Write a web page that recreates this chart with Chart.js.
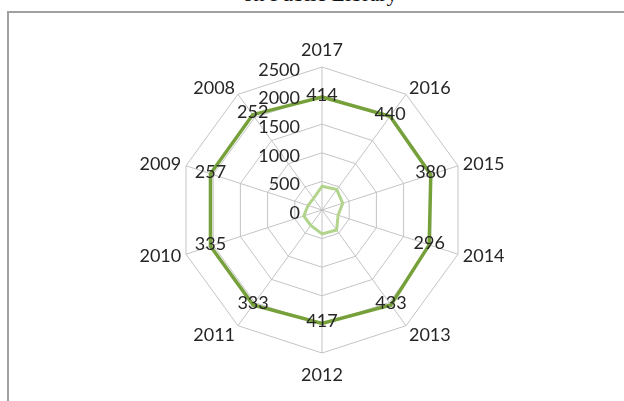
<!DOCTYPE html>
<html>
<head>
<meta charset="utf-8">
<script src="https://cdn.jsdelivr.net/npm/chart.js"></script>
<style>
  html, body { margin: 0; padding: 0; width: 624px; height: 401px; overflow: hidden; background: #fff; }
  .title { position: absolute; left: 0; top: -19px; width: 640px; text-align: center; font-family: "Liberation Serif", serif; font-size: 22px; color: #111; }
  .frame { position: absolute; left: 7px; top: 11px; width: 700px; height: 500px; border: 2px solid #a0a0a0; }
  #wrap { position: absolute; left: 0; top: 0; width: 624px; height: 401px; }
</style>
</head>
<body>
<div class="title">on Public Library</div>
<div class="frame"></div>
<div id="wrap"><canvas id="chart"></canvas></div>
<script>
const years = ['2017', '2016', '2015', '2014', '2013', '2012', '2011', '2010', '2009', '2008'];
const outerValues = [1975, 2025, 2000, 1970, 2050, 1985, 2050, 2050, 2050, 2060];
const innerValues = [414, 440, 380, 296, 433, 417, 333, 335, 257, 252];
const tickValues = [0, 500, 1000, 1500, 2000, 2500];

const FONT = '18px Lato, "Noto Sans", sans-serif';
const TEXT = '#262626';

// value labels sit on the outer line, text comes from the inner series
const valueLabels = {
  id: 'valueLabels',
  afterDatasetsDraw(chart) {
    const ctx = chart.ctx;
    const meta = chart.getDatasetMeta(0);
    ctx.save();
    ctx.font = FONT;
    ctx.fillStyle = TEXT;
    ctx.textAlign = 'center';
    ctx.textBaseline = 'middle';
    meta.data.forEach((pt, i) => {
      ctx.fillText(String(innerValues[i]), pt.x, pt.y - 2);
    });
    ctx.restore();
  }
};

// axis numbers left of the vertical spoke, years outside the rim
const axisText = {
  id: 'axisText',
  afterDraw(chart) {
    const scale = chart.scales.r;
    const ctx = chart.ctx;
    ctx.save();
    ctx.font = FONT;
    ctx.fillStyle = TEXT;
    ctx.textAlign = 'right';
    ctx.textBaseline = 'middle';
    tickValues.forEach(v => {
      const d = scale.getDistanceFromCenterForValue(v);
      ctx.fillText(String(v), scale.xCenter - 22, scale.yCenter - d + 3);
    });
    const rim = scale.getDistanceFromCenterForValue(2500);
    years.forEach((y, i) => {
      const p = scale.getPointPosition(i, rim + 5);
      let dx = p.x - scale.xCenter;
      let yy = p.y;
      if (Math.abs(dx) < 1) {
        ctx.textAlign = 'center';
        yy += (p.y < scale.yCenter) ? -12 : 17;
      } else {
        ctx.textAlign = dx > 0 ? 'left' : 'right';
        if (Math.abs(p.y - scale.yCenter) > 80) yy += (p.y < scale.yCenter) ? -2 : 5;
      }
      ctx.fillText(y, p.x, yy);
    });
    ctx.restore();
  }
};

new Chart(document.getElementById('chart'), {
  type: 'radar',
  data: {
    labels: years,
    datasets: [
      {
        data: outerValues,
        borderColor: '#76a03a',
        borderWidth: 3.5,
        fill: false,
        pointRadius: 0,
        borderJoinStyle: 'miter'
      },
      {
        data: innerValues,
        borderColor: '#b2d48c',
        borderWidth: 3,
        fill: false,
        pointRadius: 0,
        borderJoinStyle: 'miter'
      }
    ]
  },
  options: {
    responsive: true,
    maintainAspectRatio: false,
    animation: false,
    layout: { padding: { left: 20, right: 0, top: 67, bottom: 48 } },
    plugins: { legend: { display: false }, tooltip: { enabled: false } },
    scales: {
      r: {
        min: 0,
        max: 2500,
        ticks: { stepSize: 500, display: false },
        grid: { color: '#c4c4c4', lineWidth: 1 },
        angleLines: { color: '#c4c4c4', lineWidth: 1 },
        pointLabels: { display: false }
      }
    }
  },
  plugins: [valueLabels, axisText]
});
</script>
</body>
</html>
